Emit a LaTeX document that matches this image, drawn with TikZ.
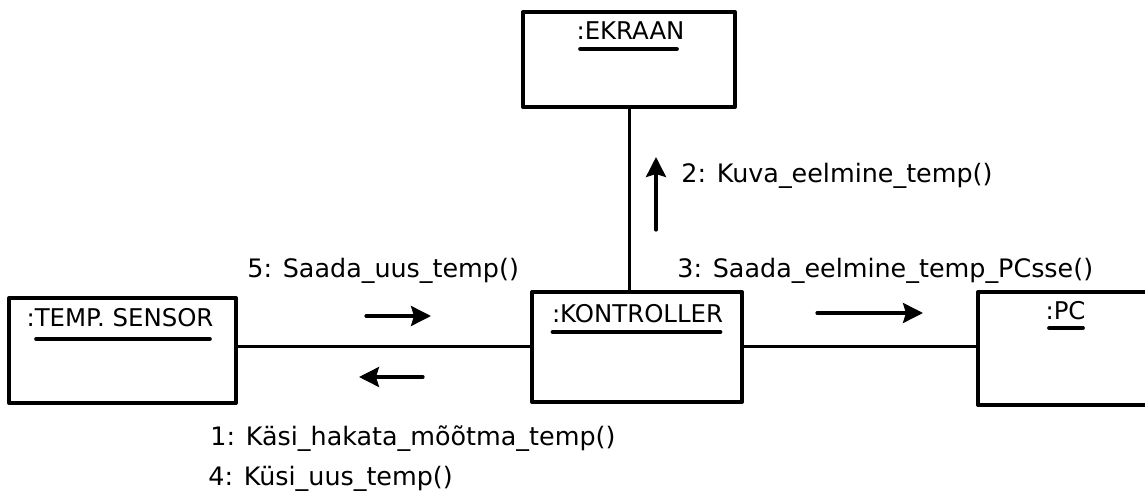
\documentclass[tikz,border=0pt]{standalone}
\usepackage{fontspec}
\setmainfont{DejaVu Sans}
\usetikzlibrary{arrows.meta}

\begin{document}
\begin{tikzpicture}[x=0.5pt,y=-0.5pt,>={Stealth[length=10pt,width=10pt,inset=1.5pt]},line cap=round,line join=round]
\useasboundingbox (0,0) rectangle (1145,496);
\tikzset{
  objbox/.style={draw,line width=2pt,line cap=rect,inner sep=0pt},
  objname/.style={anchor=base,inner sep=0pt,font=\fontsize{12.2}{14}\selectfont},
  msg/.style={anchor=base west,inner sep=0pt,font=\fontsize{12.7}{15}\selectfont},
}
\node[objbox,minimum width=106pt,minimum height=47.5pt] (ekraan) at (629,59.5) {};
\node[objbox,minimum width=105pt,minimum height=55pt] (kontroller) at (637,347) {};
\node[objbox,minimum width=113.5pt,minimum height=52.5pt] (sensor) at (122.5,350.5) {};
\node[objbox,minimum width=87pt,minimum height=56.5pt] (pc) at (1065,348.5) {};
\node[objname] (ekraanname) at (630.5,40) {:EKRAAN};
\node[objname] (kontrollername) at (637.5,323) {:KONTROLLER};
\node[objname] (sensorname) at (120,327) {:TEMP. SENSOR};
\node[objname] (pcname) at (1065.5,320) {:PC};
\draw[line width=2pt] ([xshift=2pt,yshift=-4.5pt]ekraanname.base west) -- ([xshift=-4pt,yshift=-4.5pt]ekraanname.base east);
\draw[line width=2pt] ([xshift=0.5pt,yshift=-4.5pt]kontrollername.base west) -- ([xshift=-1.5pt,yshift=-4.5pt]kontrollername.base east);
\draw[line width=2pt] ([xshift=5pt,yshift=-6pt]sensorname.base west) -- ([xshift=-2pt,yshift=-6pt]sensorname.base east);
\draw[line width=2pt] ([xshift=2pt,yshift=-4pt]pcname.base west) -- ([xshift=-1.5pt,yshift=-4pt]pcname.base east);
% links
\draw[line width=1.5pt] (ekraan.south) -- (ekraan.south |- kontroller.north);
\draw[line width=1.5pt] (kontroller.west) -- (kontroller.west -| sensor.east);
\draw[line width=1.5pt] (kontroller.east) -- (kontroller.east -| pc.west);
% messages
\coordinate (m5a) at (366,316);
\coordinate (m5b) at (431,316);
\coordinate (m1a) at (423,377);
\coordinate (m1b) at (359,377);
\coordinate (m3a) at (817,313);
\coordinate (m3b) at (923,313);
\coordinate (m2a) at (656,230);
\coordinate (m2b) at (656,157);
\draw[->,line width=1.6pt] (m5a) -- (m5b);
\draw[->,line width=1.6pt] (m1a) -- (m1b);
\draw[->,line width=1.6pt] (m3a) -- (m3b);
\draw[->,line width=1.6pt] (m2a) -- (m2b);
\node[msg] (msg5) at (247,278) {5: Saada\_uus\_temp()};
\node[msg] (msg3) at (677,278) {3: Saada\_eelmine\_temp\_PCsse()};
\node[msg] (msg2) at (681,183) {2: Kuva\_eelmine\_temp()};
\node[msg] (msg1) at (210,445) {1: Käsi\_hakata\_mõõtma\_temp()};
\node[msg] (msg4) at (208,485) {4: Küsi\_uus\_temp()};
\end{tikzpicture}
\end{document}
